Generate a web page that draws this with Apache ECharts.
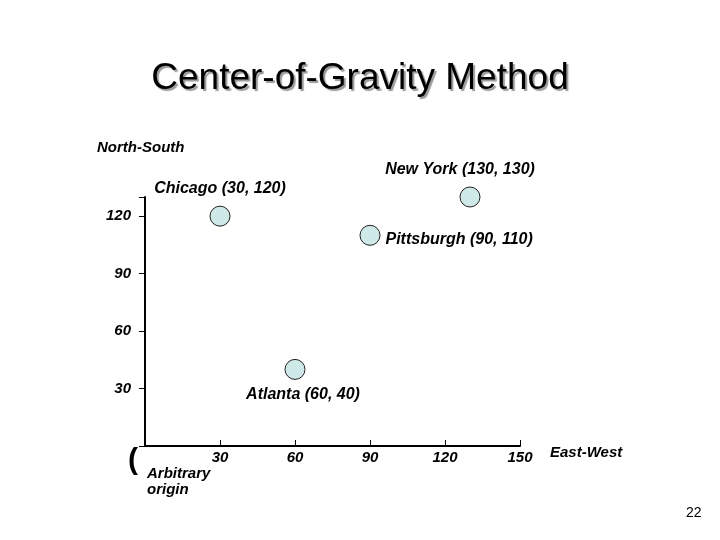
<!DOCTYPE html>
<html><head><meta charset="utf-8">
<script src="https://cdn.jsdelivr.net/npm/echarts@6/dist/echarts.min.js"></script>
<style>html,body{margin:0;background:#fff}#c{width:720px;height:540px}</style>
</head><body><div id="c"></div>
<script>
const cities = ['Chicago', 'New York', 'Pittsburgh', 'Atlanta']
const xs = [30, 130, 90, 60]
const ys = [120, 130, 110, 40]
const xTicks = [30, 60, 90, 120, 150]
const yTicks = [30, 60, 90, 120]

// label placement per city
const labelPos = [
    { position: 'top', offset: [0, -4] },
    { position: 'top', offset: [-10, -4] },
    { position: 'right', offset: [0, 4] },
    { position: 'bottom', offset: [8, 2] }
]
const font = 'Liberation Sans, Arial, sans-serif'
const axisText = { color: '#000', fontStyle: 'italic', fontWeight: 'bold', fontSize: 15, fontFamily: font }

const chart = echarts.init(document.getElementById('c'))
chart.setOption({
    animation: false,
    title: {
        text: 'Center-of-Gravity Method',
        left: 'center', top: 55,
        textStyle: { fontSize: 37, fontWeight: 'normal', color: '#000', fontFamily: font, textShadowColor: '#999', textShadowOffsetX: 2, textShadowOffsetY: 2, textShadowBlur: 1 }
    },
    grid: { left: 145, right: 200, top: 197, bottom: 94 },
    xAxis: {
        type: 'value', min: 0, max: 150, interval: 30,
        axisLine: { show: true, lineStyle: { color: '#000', width: 2 } },
        axisTick: { show: true, inside: true, length: 6, lineStyle: { color: '#000' } },
        splitLine: { show: false },
        axisLabel: { ...axisText, margin: 4, formatter: v => xTicks.includes(v) ? String(v) : '' }
    },
    yAxis: {
        type: 'value', min: 0, max: 130, interval: 30,
        axisLine: { show: true, lineStyle: { color: '#000', width: 2 } },
        axisTick: { show: true, length: 6, lineStyle: { color: '#000' } },
        splitLine: { show: false },
        axisLabel: { ...axisText, margin: 14, formatter: v => yTicks.includes(v) ? String(v) : '' }
    },
    series: [{
        type: 'scatter',
        symbolSize: 20,
        itemStyle: { color: '#cfe9e9', borderColor: '#222', borderWidth: 1, opacity: 1 },
        data: cities.map((c, i) => ({
            value: [xs[i], ys[i]],
            label: {
                show: true, ...labelPos[i],
                formatter: `${c} (${xs[i]}, ${ys[i]})`,
                ...axisText, fontSize: 16,
                textShadowColor: '#aaa', textShadowOffsetX: 1, textShadowOffsetY: 1
            }
        }))
    }],
    graphic: [
        { type: 'text', left: 97, top: 140, style: { text: 'North-South', ...axisText, fill: '#000' } },
        { type: 'text', left: 550, top: 445, style: { text: 'East-West', ...axisText, fill: '#000' } },
        { type: 'text', left: 147, top: 466, style: { text: 'Arbitrary\norigin', ...axisText, fill: '#000', lineHeight: 16 } },
        { type: 'text', left: 128, top: 446, style: { text: '(', fontSize: 30, fontWeight: 'bold', fill: '#000', fontFamily: font } },
        { type: 'text', left: 686, top: 506, style: { text: '22', fontSize: 14, fill: '#000', fontFamily: font } }
    ]
})
</script></body></html>
